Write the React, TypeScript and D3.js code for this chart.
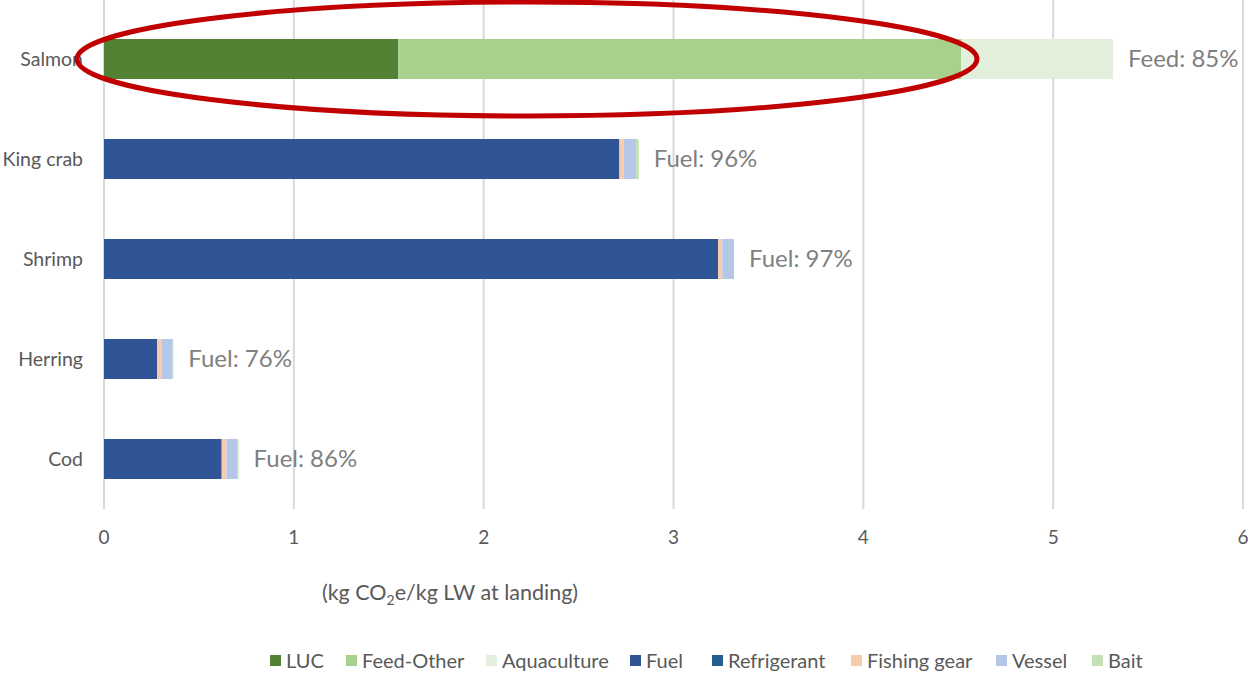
import React, { useEffect, useRef } from "react";
import * as d3 from "d3";

const categories = ["Salmon", "King crab", "Shrimp", "Herring", "Cod"];
const seriesNames = ["LUC", "Feed-Other", "Aquaculture", "Fuel", "Refrigerant", "Fishing gear", "Vessel", "Bait"];
const seriesColors = ["#548235", "#A9D18E", "#E2EFDA", "#2F5597", "#255E91", "#F8CBAD", "#B4C7E7", "#C5E0B4"];
const LUC = [1.55, 0, 0, 0, 0];
const FeedOther = [2.965, 0, 0, 0, 0];
const Aquaculture = [0.8, 0, 0, 0, 0];
const Fuel = [0, 2.715, 3.235, 0.28, 0.62];
const Refrigerant = [0, 0, 0, 0, 0];
const FishingGear = [0, 0.022, 0.022, 0.025, 0.025];
const Vessel = [0, 0.065, 0.062, 0.057, 0.058];
const Bait = [0, 0.015, 0, 0.003, 0.006];
const dataLabels = ["Feed: 85%", "Fuel: 96%", "Fuel: 97%", "Fuel: 76%", "Fuel: 86%"];
const xTicks = [0, 1, 2, 3, 4, 5, 6];
const legendTextX = [286, 362, 502, 646, 728, 867, 1012, 1108];

const FONT = "Lato, 'Open Sans', sans-serif";

export default function App() {
  const ref = useRef<SVGSVGElement>(null);
  useEffect(() => {
    document.body.style.margin = "0";
    const svg = d3.select(ref.current);
    svg.selectAll("*").remove();
    const x = d3.scaleLinear().domain([0, 6]).range([104, 1243]);
    const y = d3.scaleBand().domain(categories).range([9, 509]).paddingInner(0.6).paddingOuter(0.3);

    const series = [LUC, FeedOther, Aquaculture, Fuel, Refrigerant, FishingGear, Vessel, Bait];
    const rows = categories.map((c, i) => {
      const o: any = { cat: c };
      seriesNames.forEach((s, j) => (o[s] = series[j][i]));
      return o;
    });
    const stacked = d3.stack().keys(seriesNames)(rows);

    // gridlines
    svg.append("g").selectAll("line").data(xTicks).join("line")
      .attr("x1", (d) => x(d)).attr("x2", (d) => x(d))
      .attr("y1", 0).attr("y2", 509)
      .attr("stroke", "#D9D9D9").attr("stroke-width", 2);

    // tick labels
    svg.append("g").selectAll("text").data(xTicks).join("text")
      .attr("x", (d) => x(d)).attr("y", 544)
      .attr("text-anchor", "middle")
      .attr("font-family", FONT).attr("font-size", 19).attr("fill", "#595959")
      .text((d) => String(d));

    // bars
    svg.append("g").selectAll("g").data(stacked).join("g")
      .attr("fill", (d, i) => seriesColors[i])
      .selectAll("rect").data((d) => d.map((v, i) => ({ v, i }))).join("rect")
      .attr("x", (d) => x(d.v[0]))
      .attr("width", (d) => Math.max(0, x(d.v[1]) - x(d.v[0])))
      .attr("y", (d) => y(categories[d.i])!)
      .attr("height", y.bandwidth());

    // category labels
    svg.append("g").selectAll("text").data(categories).join("text")
      .attr("x", 83).attr("y", (d) => y(d)! + y.bandwidth() / 2 + 7)
      .attr("text-anchor", "end")
      .attr("font-family", FONT).attr("font-size", 19.5).attr("fill", "#595959")
      .text((d) => d);

    // data labels
    const totals = rows.map((r) => d3.sum(seriesNames, (s) => r[s]));
    svg.append("g").selectAll("text").data(dataLabels).join("text")
      .attr("x", (d, i) => x(totals[i]) + 15)
      .attr("y", (d, i) => y(categories[i])! + y.bandwidth() / 2 + 8)
      .attr("font-family", FONT).attr("font-size", 24).attr("fill", "#7F7F7F")
      .text((d) => d);

    // axis title
    const t = svg.append("text").attr("x", 450).attr("y", 600).attr("text-anchor", "middle")
      .attr("font-family", FONT).attr("font-size", 21.5).attr("fill", "#595959");
    t.append("tspan").text("(kg CO");
    t.append("tspan").attr("font-size", 14).attr("dy", 5).text("2");
    t.append("tspan").attr("dy", -5).text("e/kg LW at landing)");

    // legend
    const lg = svg.append("g").selectAll("g").data(seriesNames).join("g")
      .attr("transform", (d, i) => `translate(${legendTextX[i]},661)`);
    lg.append("rect").attr("x", -16).attr("y", -6).attr("width", 11).attr("height", 11)
      .attr("fill", (d, i) => seriesColors[i]);
    lg.append("text").attr("x", 0).attr("y", 7)
      .attr("font-family", FONT).attr("font-size", 20).attr("fill", "#595959")
      .text((d) => d);

    // highlight ellipse
    svg.append("ellipse").attr("cx", 527).attr("cy", y("Salmon")! + y.bandwidth() / 2)
      .attr("rx", 450).attr("ry", 57)
      .attr("fill", "none").attr("stroke", "#C00000").attr("stroke-width", 5);
  }, []);
  return <svg ref={ref} width={1248} height={674} style={{ display: "block" }} />;
}
